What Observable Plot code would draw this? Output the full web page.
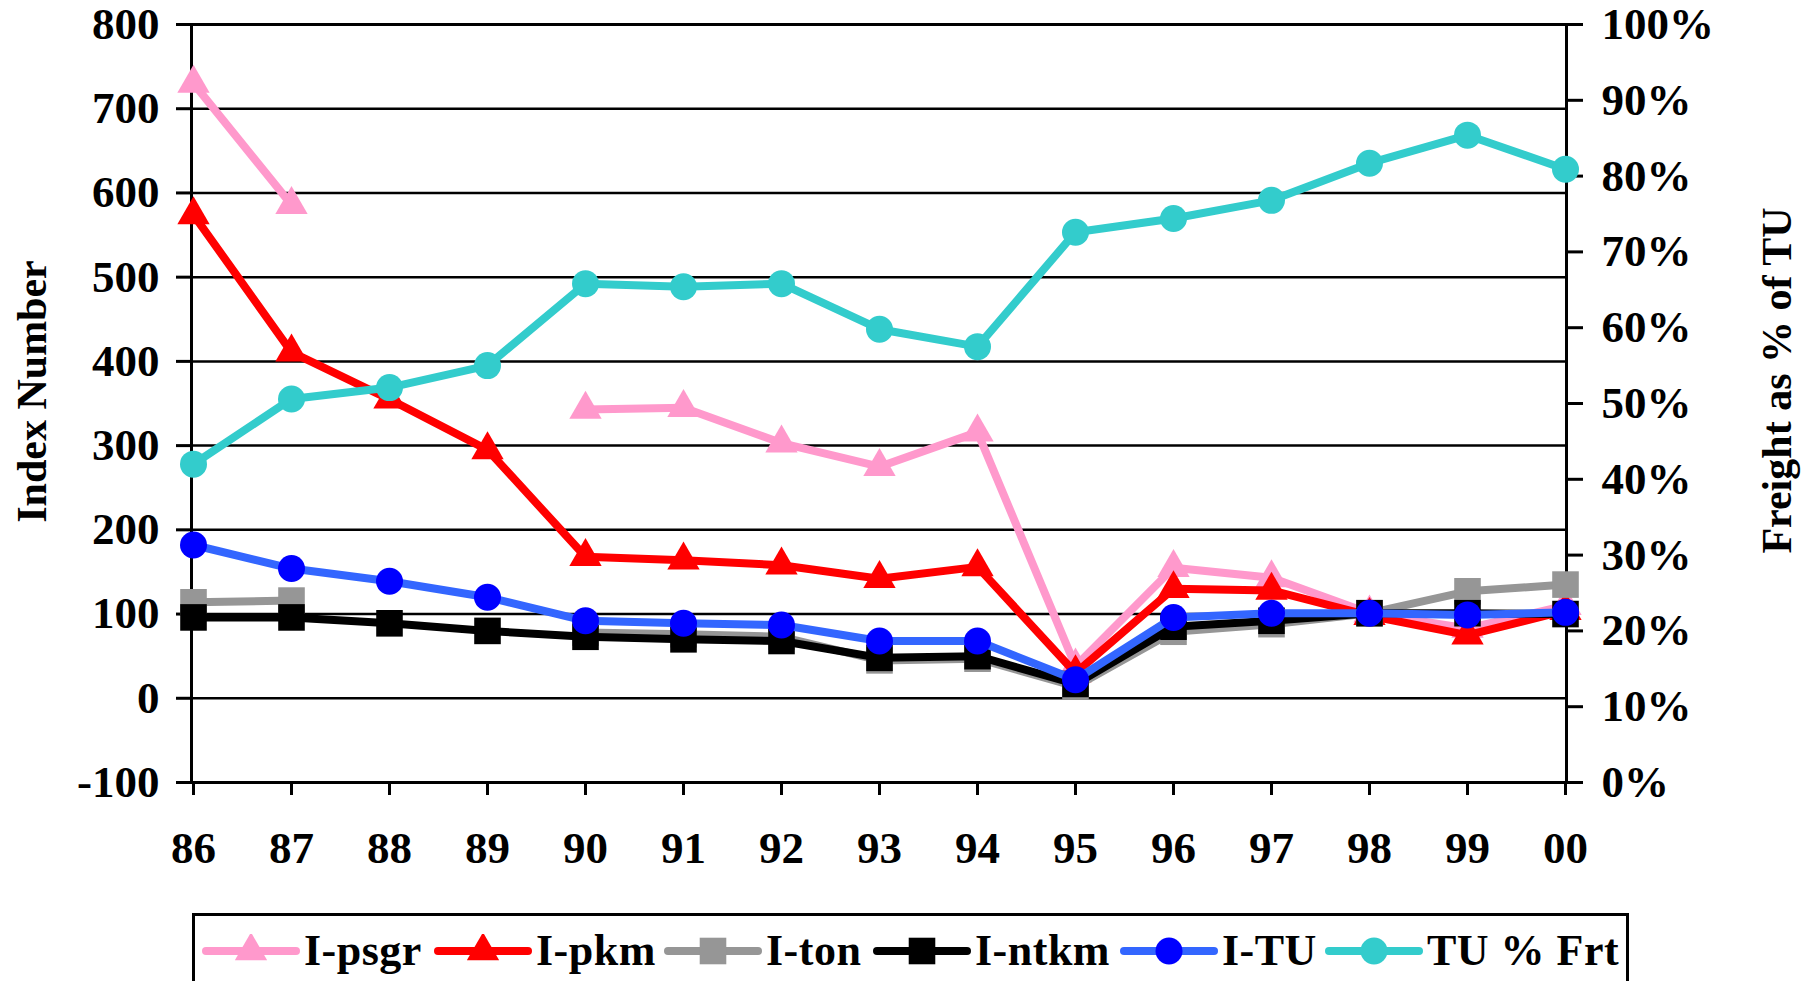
<!DOCTYPE html>
<html><head><meta charset="utf-8">
<script src="https://cdn.jsdelivr.net/npm/d3@7"></script>
<script src="https://cdn.jsdelivr.net/npm/@observablehq/plot@0.6"></script>
<style>
html,body{margin:0;padding:0;background:#fff;}
body{width:1818px;height:981px;overflow:hidden;position:relative;font-family:"Liberation Serif","Times New Roman",serif;}
#legend{position:absolute;left:192px;top:913px;width:1437px;height:76px;border:3px solid #000;box-sizing:border-box;}
.item{position:absolute;top:0;height:70px;display:flex;align-items:center;}
.item svg{display:block;}
.item span{font-size:44px;font-weight:bold;line-height:1;margin-left:3px;letter-spacing:0.5px;color:#000;white-space:nowrap;}
</style></head><body>
<div id="chart"></div><div id="legend"></div>
<script>
// ---- data ----
const years = ["86","87","88","89","90","91","92","93","94","95","96","97","98","99","00"];
const leftTicks = [-100, 0, 100, 200, 300, 400, 500, 600, 700, 800];
const pctTicks = [0, 10, 20, 30, 40, 50, 60, 70, 80, 90, 100];
const psgr = [730, 586, null, null, 343, 345, 303, 275, 316, 38, 155, 143, 101, 83, 110];
const pkm  = [574, 411, 355, 295, 168, 164, 158, 142, 156, 30, 130, 128, 98, 75, 104];
const ton  = [114, 116, null, null, 78, 76, 73, 45, 47, 14, 79, 88, 101, 127, 135];
const ntkm = [96, 96, 89, 80, 73, 70, 68, 48, 50, 17, 85, 92, 101, 101, 100];
const tu   = [182, 154, 139, 120, 92, 89, 87, 68, 68, 22, 96, 101, 101, 99, 102];
const tuPctFrt = [42.0, 50.6, 52.1, 55.0, 65.8, 65.4, 65.8, 59.8, 57.5, 72.6, 74.4, 76.8, 81.7, 85.4, 80.9];

// ---- styling ----
const series = [
  {name: "I-psgr",   values: psgr,     line: "#FF99CC", marker: "#FF99CC", symbol: "triangle", r: 12,   axis: "left"},
  {name: "I-pkm",    values: pkm,      line: "#FF0000", marker: "#FF0000", symbol: "triangle", r: 12,   axis: "left"},
  {name: "I-ton",    values: ton,      line: "#969696", marker: "#969696", symbol: "square",   r: 15,   axis: "left"},
  {name: "I-ntkm",   values: ntkm,     line: "#000000", marker: "#000000", symbol: "square",   r: 15,   axis: "left"},
  {name: "I-TU",     values: tu,       line: "#3366FF", marker: "#0000FF", symbol: "circle",   r: 13.5, axis: "left"},
  {name: "TU % Frt", values: tuPctFrt, line: "#33CCCC", marker: "#33CCCC", symbol: "circle",   r: 13.5, axis: "right"}
];
// legend layout: left edge (page px) of each legend swatch
const legendSwatchLeft = [206, 438, 668, 877, 1124, 1329];

// secondary axis: 0%..100% maps onto -100..800 of the primary axis
const toLeft = p => -100 + p * 9;
const fromLeft = v => Math.round((v + 100) / 9);

const W = 1818, H = 910;
const font = "'Liberation Serif','Times New Roman',serif";

const marks = [
  Plot.gridY(leftTicks, {stroke: "#000", strokeOpacity: 1, strokeWidth: 2.5}),
  Plot.frame({stroke: "#000", strokeWidth: 3}),
  Plot.axisY(leftTicks, {anchor: "left", tickSize: 15, tickPadding: 17, strokeWidth: 3,
    tickFormat: d => String(d), label: null, fontSize: 45, fontWeight: "bold"}),
  Plot.axisY(pctTicks.map(toLeft), {anchor: "right", tickSize: 16, tickPadding: 19, strokeWidth: 3,
    tickFormat: v => fromLeft(v) + "%", label: null, fontSize: 45, fontWeight: "bold"}),
  Plot.axisX({tickSize: 13, tickPadding: 36, strokeWidth: 3, label: null, fontSize: 45, fontWeight: "bold"}),
  Plot.text(["Index Number"], {frameAnchor: "left", textAnchor: "middle", rotate: -90, dx: -159, dy: -12,
    fontSize: 42, fontWeight: "bold", fill: "#000"}),
  Plot.text(["Freight as % of TU"], {frameAnchor: "right", textAnchor: "middle", rotate: -90, dx: 211, dy: -23,
    fontSize: 42, fontWeight: "bold", fill: "#000"})
];

for (const s of series) {
  const rows = years.map((yr, i) => ({
    year: yr,
    value: s.values[i] == null ? null : (s.axis === "right" ? toLeft(s.values[i]) : s.values[i])
  }));
  marks.push(Plot.line(rows, {x: "year", y: "value", stroke: s.line, strokeWidth: 8}));
  marks.push(Plot.dot(rows.filter(d => d.value != null), {x: "year", y: "value", symbol: s.symbol, r: s.r, fill: s.marker, stroke: "none"}));
}

const chart = Plot.plot({
  width: W, height: H,
  marginLeft: 191, marginRight: 252, marginTop: 24, marginBottom: H - 782,
  x: {type: "point", domain: years, padding: 0},
  y: {domain: [-100, 800]},
  style: {fontFamily: font, fontSize: "45px", fontWeight: "bold", background: "#fff", color: "#000", overflow: "visible"},
  marks
});
document.getElementById("chart").appendChild(chart);

// ---- legend ----
const symMap = {triangle: d3.symbolTriangle, square: d3.symbolSquare, circle: d3.symbolCircle};
const legend = d3.select("#legend");
series.forEach((s, i) => {
  const item = legend.append("div").attr("class", "item")
    .style("left", (legendSwatchLeft[i] - 195 - 5) + "px");
  const svg = item.append("svg").attr("width", 100).attr("height", 34);
  svg.append("line").attr("x1", 5).attr("x2", 95).attr("y1", 17).attr("y2", 17)
    .attr("stroke", s.line).attr("stroke-width", 8).attr("stroke-linecap", "round");
  svg.append("path").attr("transform", "translate(50,17)")
    .attr("d", d3.symbol(symMap[s.symbol], Math.PI * s.r * s.r)()).attr("fill", s.marker);
  item.append("span").text(s.name);
});
</script></body></html>
